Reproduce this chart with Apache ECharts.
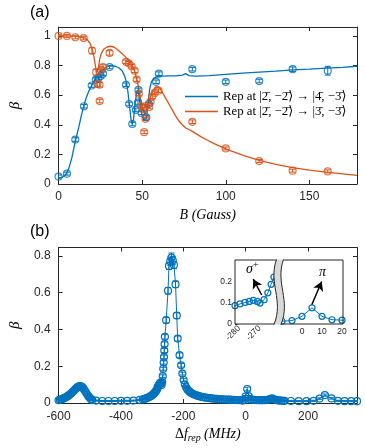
<!DOCTYPE html>
<html><head><meta charset="utf-8">
<script src="https://cdn.jsdelivr.net/npm/echarts@6/dist/echarts.min.js"></script>
<style>html,body{margin:0;padding:0;background:#fff}#c{width:365px;height:448px}</style>
</head><body><div id="c"></div>
<script>
// ---------- Panel (a) data ----------
const blueB    = [0, 5, 10, 15.2, 19.8, 22.3, 23.8, 25.2, 26.6, 30.5, 40.3, 42.2, 44.1, 46.2, 47.5, 47.8, 49.6, 52.5, 54, 58.3, 60, 80, 100, 120, 140, 161];
const blueBeta = [0.05, 0.07, 0.30, 0.525, 0.665, 0.705, 0.715, 0.73, 0.745, 0.79, 0.67, 0.54, 0.405, 0.50, 0.55, 0.635, 0.48, 0.45, 0.54, 0.69, 0.745, 0.775, 0.69, 0.695, 0.775, 0.765];
const blueErr  = [0.01, 0.01, 0.012, 0.012, 0.012, 0.012, 0.012, 0.012, 0.012, 0.012, 0.012, 0.012, 0.012, 0.012, 0.012, 0.012, 0.012, 0.012, 0.012, 0.012, 0.012, 0.012, 0.012, 0.012, 0.015, 0.03];

const orangeB    = [0, 5, 10, 15, 20, 22.5, 23.2, 24.5, 24.6, 25.5, 26.5, 30.5, 40.3, 42, 43.7, 45.5, 46.7, 48, 49.5, 50.5, 51.2, 52, 51.8, 54.3, 55, 56, 57.5, 59.8, 80, 100, 120, 140, 161];
const orangeBeta = [1.0, 1.0, 0.99, 0.985, 0.90, 0.755, 0.675, 0.67, 0.56, 0.77, 0.79, 0.885, 0.825, 0.815, 0.795, 0.765, 0.705, 0.61, 0.525, 0.505, 0.35, 0.44, 0.525, 0.52, 0.555, 0.59, 0.615, 0.63, 0.42, 0.24, 0.155, 0.09, 0.085];
const orangeErr  = [0.01, 0.01, 0.01, 0.012, 0.02, 0.02, 0.015, 0.015, 0.012, 0.015, 0.015, 0.015, 0.012, 0.012, 0.012, 0.012, 0.012, 0.012, 0.012, 0.012, 0.01, 0.01, 0.01, 0.012, 0.012, 0.012, 0.012, 0.012, 0.012, 0.01, 0.01, 0.01, 0.01];

const fitBlueB    = [0,2,4,6,8,10,12,14,16,18, 20,22,24,26,28,30,32,34,36,38, 39.5,40.5,41.5,42.5,43.3,44,44.8,45.5,46.5,47.3, 48,49,50,51,52,52.8,53.5,54.5,55.5,57, 59,62,66,70,74,76,78,82,90,100, 110,120,130,140,150,160,170,178.5];
const fitBlueBeta = [0.04,0.045,0.06,0.1,0.18,0.29,0.38,0.48,0.565,0.625, 0.67,0.71,0.74,0.765,0.785,0.795,0.798,0.795,0.785,0.765, 0.73,0.69,0.62,0.52,0.44,0.405,0.43,0.52,0.6,0.635, 0.6,0.52,0.46,0.43,0.42,0.46,0.55,0.64,0.69,0.715, 0.725,0.728,0.73,0.73,0.735,0.745,0.732,0.728,0.732,0.74, 0.748,0.755,0.762,0.77,0.775,0.782,0.788,0.795];

const fitOrangeB    = [0,5,10,14,16,17.5,19,20,21,22, 22.7,23.2,23.8,24.5,25.5,27,29,31,33,35, 37,39,41,43,44.5,45.5,46.5,47.5,48.5,49.5, 50.5,51.5,52.5,53.5,55,56.5,58,59,60,62, 64,66,68,70,72,74,76,78,80,85, 90,95,100,110,120,130,140,150,160,170, 178.5];
const fitOrangeBeta = [1.0,1.0,0.998,0.99,0.985,0.97,0.945,0.91,0.87,0.8, 0.75,0.74,0.78,0.84,0.88,0.91,0.925,0.93,0.925,0.91, 0.89,0.87,0.845,0.82,0.79,0.76,0.72,0.67,0.61,0.55, 0.5,0.47,0.49,0.53,0.59,0.63,0.655,0.66,0.655,0.62, 0.58,0.54,0.5,0.46,0.425,0.4,0.378,0.368,0.355,0.32, 0.29,0.262,0.237,0.195,0.16,0.133,0.11,0.093,0.08,0.068, 0.058];

// ---------- Panel (b) data ----------
const fB = [
  -600,-596,-592,-588,-584,-580,-576,-572,-568,-564,
  -560,-556,-552,-548,-544,-540,-536,-532,-528,-524,
  -520,-516,-512,-508,-504,-500,-496,-492,-480,-460,
  -440,-420,-400,-380,-360,-340,-330,-325,-320,-315,
  -310,-306,-302,-298,-295,-292,-289,-286,-284,-282,
  -279.6,-277.1,-275,-273.1,-271.1,-269.8,-267.8,-266,-264.4,-263,
  -262,-261,-260,-259,-255,-249,-246,-242,-238,-234,
  -230,-225,-221,-218,-212,-207,-203,-199,-195,-191,
  -187,-183,-179,-175,-170,-165,-160,-155,-150,-145,
  -140,-134,-128,-122,-116,-110,-104,-98,-92,-86,
  -80,-74,-68,-62,-56,-50,-44,-38,-32,-26,
  -20,-15,-10,-5,0,5,10,15,20,25,
  30,35,40,45,50,55,60,65,70,75,
  80,85,90,95,100,105,110,115,120,125,
  145,170,195,218,237,254,275,296,317,338,
  357];
const betaB = [
  .015,.017,.019,.022,.025,.028,.032,.036,.041,.046,
  .052,.058,.065,.072,.079,.085,.089,.092,.091,.086,
  .078,.068,.057,.046,.036,.028,.021,.016,.013,.011,
  .011,.011,.012,.012,.013,.017,.020,.022,.025,.028,
  .032,.036,.040,.045,.050,.056,.062,.069,.076,.086,
  .094,.101,.106,.111,.106,.098,.114,.146,.186,.220,
  .250,.285,.320,.360,.450,.610,.745,.770,.790,.775,
  .750,.645,.475,.350,.260,.205,.160,.125,.100,.085,
  .074,.066,.060,.055,.050,.046,.043,.040,.037,.035,
  .033,.031,.029,.028,.026,.025,.024,.023,.022,.021,
  .020,.020,.019,.019,.018,.018,.017,.017,.016,.016,
  .016,.015,.013,.016,.036,.076,.036,.020,.018,.017,
  .016,.016,.016,.015,.015,.015,.016,.016,.017,.019,
  .022,.025,.020,.017,.015,.014,.013,.013,.012,.012,
  .011,.010,.010,.012,.024,.043,.025,.012,.010,.010,
  .010];
const errB = [
  .003,.003,.003,.003,.003,.003,.003,.003,.003,.003,
  .004,.004,.004,.004,.004,.004,.004,.004,.004,.004,
  .004,.004,.004,.004,.003,.003,.003,.003,.003,.003,
  .003,.003,.003,.003,.003,.003,.003,.003,.003,.003,
  .003,.003,.004,.004,.004,.004,.005,.005,.005,.005,
  .005,.005,.005,.005,.005,.005,.006,.007,.008,.009,
  .010,.011,.012,.013,.015,.018,.020,.022,.025,.022,
  .020,.018,.016,.014,.012,.010,.008,.007,.006,.005,
  .005,.004,.004,.004,.004,.003,.003,.003,.003,.003,
  .003,.003,.003,.003,.003,.003,.003,.003,.003,.003,
  .003,.003,.003,.003,.003,.003,.003,.003,.003,.003,
  .003,.003,.003,.003,.005,.010,.005,.003,.003,.003,
  .003,.003,.003,.003,.003,.003,.003,.003,.003,.003,
  .003,.003,.003,.003,.003,.003,.003,.003,.003,.003,
  .003,.003,.003,.003,.004,.006,.004,.003,.003,.003,
  .003];

// ---------- Tick labels ----------
const ticksAX = [0, 50, 100, 150];
const ticksAY = [0, 0.2, 0.4, 0.6, 0.8, 1];
const ticksBX = [-600, -400, -200, 0, 200];
const ticksBY = [0, 0.2, 0.4, 0.6, 0.8];
const ticksInsetLX = [-280, -270];
const ticksInsetRX = [0, 10, 20];
const ticksInsetY = [0, 0.1, 0.2];

const LEG_BLUE = 'Rep at |2\u0304, \u22122\u0304\u27E9 \u2192 |4\u0304, \u22123\u0304\u27E9';
const LEG_ORANGE = 'Rep at |2\u0304, \u22122\u0304\u27E9 \u2192 |3\u0304, \u22123\u0304\u27E9';

// ---------- Styling ----------
const BLUE = '#0072BD', ORANGE = '#D95319', AX = '#262626';
const SANS = '"Liberation Sans", Arial, Helvetica, sans-serif';
const SERIF = '"Liberation Serif", "DejaVu Serif", serif';

const pairs = (xs, ys) => xs.map((x, i) => [x, ys[i]]);
const triples = (xs, ys, es) => xs.map((x, i) => [x, ys[i], es[i]]);

function axis(o) {
  const showLabel = o.labels !== false;
  return {
    type: 'value', gridIndex: o.grid, min: o.min, max: o.max, position: o.pos,
    axisLine: { show: o.line !== false, onZero: false, lineStyle: { color: AX, width: 1 } },
    axisTick: { show: !!o.ticks, inside: true, length: o.tickLen || 4, customValues: o.ticks, lineStyle: { color: AX, width: 1 } },
    axisLabel: { show: showLabel && !!o.ticks, customValues: o.ticks, color: AX, fontSize: o.fs || 12, fontFamily: SANS, margin: o.margin || 7, rotate: o.rotate || 0 },
    splitLine: { show: false },
    name: o.name, nameLocation: 'middle', nameGap: o.nameGap, nameTextStyle: o.nameStyle
  };
}

function errSeries(xi, yi, data, color, cap) {
  return {
    type: 'custom', xAxisIndex: xi, yAxisIndex: yi, data: data, clip: true, silent: true,
    encode: { x: 0, y: 1 }, itemStyle: { color: color }, z: 3,
    renderItem: function (params, api) {
      const x = api.value(0), y = api.value(1), e = api.value(2);
      const a = api.coord([x, y - e]), b = api.coord([x, y + e]);
      const st = { stroke: color, lineWidth: 1 };
      return { type: 'group', children: [
        { type: 'line', shape: { x1: a[0], y1: a[1], x2: b[0], y2: b[1] }, style: st },
        { type: 'line', shape: { x1: a[0] - cap, y1: a[1], x2: a[0] + cap, y2: a[1] }, style: st },
        { type: 'line', shape: { x1: b[0] - cap, y1: b[1], x2: b[0] + cap, y2: b[1] }, style: st }
      ] };
    }
  };
}

function circles(color) {
  return { color: 'rgba(0,0,0,0)', borderColor: color, borderWidth: 1.2 };
}

// break glyph geometry for inset
function bez(p0, p1, p2, p3, t) {
  const u = 1 - t;
  return [u*u*u*p0[0] + 3*u*u*t*p1[0] + 3*u*t*t*p2[0] + t*t*t*p3[0],
          u*u*u*p0[1] + 3*u*u*t*p1[1] + 3*u*t*t*p2[1] + t*t*t*p3[1]];
}
const brkL = [[276.5, 259.5], [268, 283], [284, 300], [274, 324.5]];
const brkR = brkL.map(p => [p[0] + 7, p[1]]);
const bandPts = [];
for (let i = 0; i <= 20; i++) bandPts.push(bez(brkL[0], brkL[1], brkL[2], brkL[3], i / 20));
for (let i = 20; i >= 0; i--) bandPts.push(bez(brkR[0], brkR[1], brkR[2], brkR[3], i / 20));

const nameSerif = { fontFamily: SERIF, fontStyle: 'italic', fontSize: 15, color: '#000' };

const option = {
  animation: false,
  backgroundColor: '#fff',
  legend: {
    left: 185, top: 89, padding: 0, orient: 'vertical', itemWidth: 33, itemHeight: 1.4, itemGap: 0,
    icon: 'rect',
    data: [LEG_BLUE, LEG_ORANGE], selectedMode: false,
    textStyle: { fontFamily: SERIF, fontSize: 12.8, color: '#000', lineHeight: 15 }
  },
  grid: [
    { left: 52, top: 27, width: 305, height: 157 },
    { left: 53, top: 247.5, width: 304, height: 155.5 },
    { left: 235, top: 260, width: 40, height: 64, show: true, backgroundColor: '#fff', borderWidth: 0, z: 1 },
    { left: 282, top: 260, width: 61, height: 64, show: true, backgroundColor: '#fff', borderWidth: 0, z: 1 }
  ],
  xAxis: [
    axis({ grid: 0, min: 0, max: 178.5, pos: 'bottom', ticks: ticksAX, name: 'B (Gauss)', nameGap: 24,
           nameStyle: { fontFamily: SERIF, fontStyle: 'italic', fontSize: 14, color: '#000' } }),
    axis({ grid: 0, min: 0, max: 178.5, pos: 'top', ticks: ticksAX, labels: false }),
    axis({ grid: 1, min: -600, max: 357, pos: 'bottom', ticks: ticksBX, margin: 8,
           name: '{n|\u0394}{i|f}{s|rep} {i|(MHz)}', nameGap: 22,
           nameStyle: { rich: {
             n: { fontFamily: SERIF, fontSize: 14, color: '#000', lineHeight: 18 },
             i: { fontFamily: SERIF, fontStyle: 'italic', fontSize: 14, color: '#000', lineHeight: 18 },
             s: { fontFamily: SERIF, fontStyle: 'italic', fontSize: 10, color: '#000', lineHeight: 10, padding: [9, 0, 0, 0] }
           } } }),
    axis({ grid: 1, min: -600, max: 357, pos: 'top', ticks: ticksBX, labels: false }),
    axis({ grid: 2, min: -282, max: -262.5, pos: 'bottom', ticks: ticksInsetLX, line: false, fs: 8.5, margin: 3, rotate: 45, tickLen: 2.5 }),
    axis({ grid: 3, min: -10, max: 20.5, pos: 'bottom', ticks: ticksInsetRX, line: false, fs: 8.5, margin: 3, tickLen: 2.5 })
  ],
  yAxis: [
    axis({ grid: 0, min: 0, max: 1.06, pos: 'left', ticks: ticksAY, margin: 8, name: '\u03B2', nameGap: 25, nameStyle: nameSerif }),
    axis({ grid: 0, min: 0, max: 1.06, pos: 'right', ticks: ticksAY, labels: false }),
    axis({ grid: 1, min: 0, max: 0.845, pos: 'left', ticks: ticksBY, margin: 8, name: '\u03B2', nameGap: 25, nameStyle: nameSerif }),
    axis({ grid: 1, min: 0, max: 0.845, pos: 'right', ticks: ticksBY, labels: false }),
    axis({ grid: 2, min: 0, max: 0.3, pos: 'left', ticks: ticksInsetY, line: false, fs: 8.5, margin: 3, tickLen: 2.5 }),
    axis({ grid: 3, min: 0, max: 0.3, pos: 'left', line: false, labels: false })
  ],
  series: [
    // Panel (a) fits
    { name: LEG_BLUE, type: 'line', xAxisIndex: 0, yAxisIndex: 0, data: pairs(fitBlueB, fitBlueBeta),
      symbol: 'none', lineStyle: { color: BLUE, width: 1.3 }, itemStyle: { color: BLUE }, z: 2 },
    { name: LEG_ORANGE, type: 'line', xAxisIndex: 0, yAxisIndex: 0, data: pairs(fitOrangeB, fitOrangeBeta),
      symbol: 'none', lineStyle: { color: ORANGE, width: 1.3 }, itemStyle: { color: ORANGE }, z: 2 },
    // Panel (a) data with error bars
    errSeries(0, 0, triples(blueB, blueBeta, blueErr), BLUE, 3),
    { type: 'scatter', xAxisIndex: 0, yAxisIndex: 0, data: pairs(blueB, blueBeta), symbol: 'circle', symbolSize: 7,
      itemStyle: circles(BLUE), silent: true, z: 4 },
    errSeries(0, 0, triples(orangeB, orangeBeta, orangeErr), ORANGE, 3),
    { type: 'scatter', xAxisIndex: 0, yAxisIndex: 0, data: pairs(orangeB, orangeBeta), symbol: 'circle', symbolSize: 7,
      itemStyle: circles(ORANGE), silent: true, z: 4 },
    // Panel (b)
    errSeries(2, 2, triples(fB, betaB, errB), BLUE, 3),
    { type: 'line', xAxisIndex: 2, yAxisIndex: 2, data: pairs(fB, betaB), symbol: 'circle', symbolSize: 7,
      showAllSymbol: true, lineStyle: { color: BLUE, width: 1 }, itemStyle: circles(BLUE), silent: true, z: 4 },
    // Inset left
    { type: 'line', xAxisIndex: 4, yAxisIndex: 4, data: pairs(fB, betaB), symbol: 'circle', symbolSize: 6,
      showAllSymbol: true, clip: true, lineStyle: { color: BLUE, width: 1 }, itemStyle: circles(BLUE), silent: true, z: 5,
      markLine: { silent: true, symbol: ['none', 'arrow'], symbolSize: [8, 9], animation: false,
        lineStyle: { color: '#000', width: 1.5, type: 'solid' },
        label: { show: true, position: 'end', distance: 2, formatter: '{g|\u03C3}{p|+}',
          rich: { g: { fontFamily: SERIF, fontStyle: 'italic', fontSize: 14, color: '#000', lineHeight: 16 },
                  p: { fontFamily: SERIF, fontSize: 10, color: '#000', lineHeight: 10, padding: [0, 0, 8, 0] } } },
        data: [[{ coord: [-269, 0.136] }, { coord: [-273.1, 0.21] }]] } },
    // Inset right
    { type: 'line', xAxisIndex: 5, yAxisIndex: 5, data: pairs(fB, betaB), symbol: 'circle', symbolSize: 6,
      showAllSymbol: true, clip: true, lineStyle: { color: BLUE, width: 1 }, itemStyle: circles(BLUE), silent: true, z: 5,
      markLine: { silent: true, symbol: ['none', 'arrow'], symbolSize: [8, 9], animation: false,
        lineStyle: { color: '#000', width: 1.5, type: 'solid' },
        label: { show: true, position: 'end', distance: 2, formatter: '\u03C0',
          fontFamily: SERIF, fontStyle: 'italic', fontSize: 14, color: '#000' },
        data: [[{ coord: [4.85, 0.089] }, { coord: [9.85, 0.199] }]] } }
  ],
  graphic: [
    { type: 'text', x: 30, y: 5, silent: true, style: { text: '(a)', font: '16px "Liberation Sans", Arial, sans-serif', fill: '#000' } },
    { type: 'text', x: 30, y: 224, silent: true, style: { text: '(b)', font: '16px "Liberation Sans", Arial, sans-serif', fill: '#000' } },
    { type: 'polyline', z: 60, silent: true, shape: { points: [[276.5, 260], [235, 260], [235, 324], [274, 324]] },
      style: { stroke: AX, lineWidth: 1, fill: null } },
    { type: 'polyline', z: 60, silent: true, shape: { points: [[283.5, 260], [343, 260], [343, 324], [281, 324]] },
      style: { stroke: AX, lineWidth: 1, fill: null } },
    { type: 'polygon', z: 61, silent: true, shape: { points: bandPts }, style: { fill: '#d9d9d9', stroke: null } },
    { type: 'bezierCurve', z: 62, silent: true,
      shape: { x1: brkL[0][0], y1: brkL[0][1], cpx1: brkL[1][0], cpy1: brkL[1][1], cpx2: brkL[2][0], cpy2: brkL[2][1], x2: brkL[3][0], y2: brkL[3][1] },
      style: { stroke: AX, lineWidth: 1, fill: null } },
    { type: 'bezierCurve', z: 62, silent: true,
      shape: { x1: brkR[0][0], y1: brkR[0][1], cpx1: brkR[1][0], cpy1: brkR[1][1], cpx2: brkR[2][0], cpy2: brkR[2][1], x2: brkR[3][0], y2: brkR[3][1] },
      style: { stroke: AX, lineWidth: 1, fill: null } }
  ]
};

const chart = echarts.init(document.getElementById('c'), null, { renderer: 'canvas' });
chart.setOption(option);
</script>
</body></html>
